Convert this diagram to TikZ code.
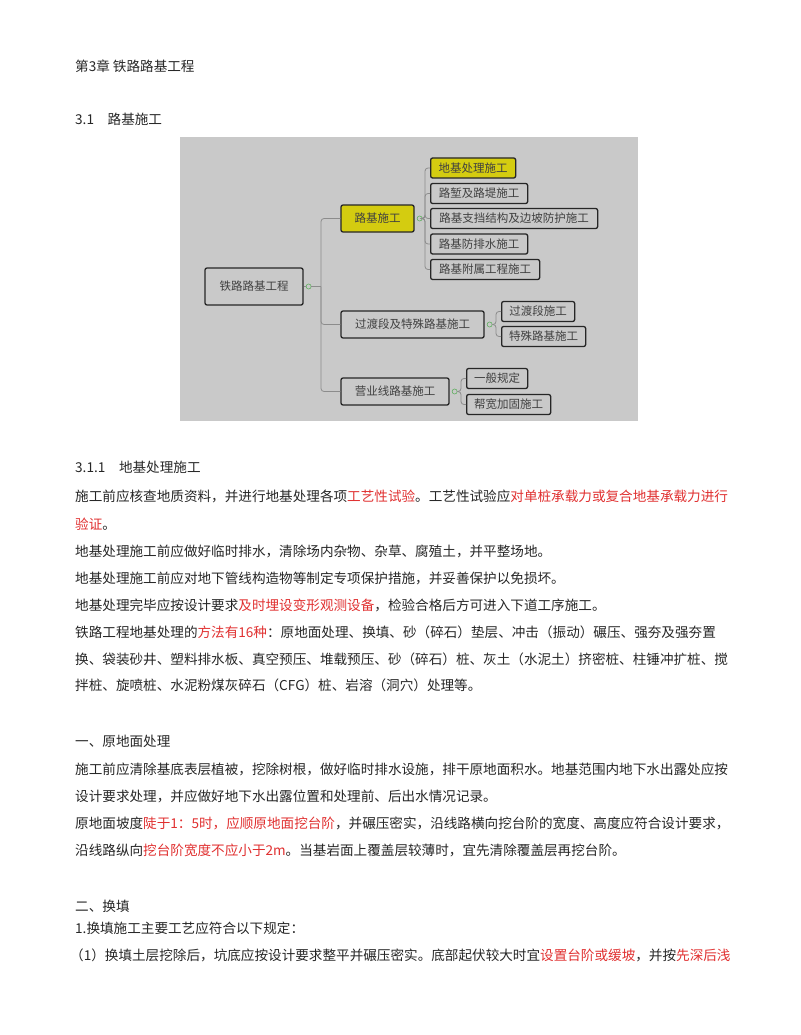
\documentclass[tikz,border=0pt]{standalone}
\usepackage{fontspec}
\setmainfont{Noto Sans CJK SC}
\definecolor{redt}{HTML}{E03030}
\definecolor{bg}{HTML}{C9C9C9}
\definecolor{yel}{HTML}{D4CC10}
\definecolor{ln}{HTML}{8C8C8C}
\newcommand{\rd}[1]{\textcolor{redt}{#1}}
\begin{document}
\begin{tikzpicture}[x=1pt,y=-1pt,
  txt/.style={anchor=west,inner sep=0pt,font=\fontsize{13.6}{14}\selectfont,text=black!85},
  box/.style={draw=black!85,line width=1.3pt,rounded corners=2pt,fill=bg,inner sep=0pt,font=\fontsize{11.5}{12}\selectfont,text=black!75},
  hl/.style={fill=yel},
  con/.style={draw=ln,line width=0.8pt,rounded corners=3pt},
  knob/.style={circle,draw=ln!70!green,line width=0.6pt,inner sep=0pt,minimum size=5pt,fill=bg}]
\useasboundingbox (0,0) rectangle (800,1035);
\node[txt] (h1) at (75,66) {第3章 铁路路基工程};
\node[txt] (h2) at (75,119) {3.1\quad 路基施工};
\fill[bg] (180,137) rectangle (638,421);
% nodes
\node[box,minimum width=98pt,minimum height=37pt] (root) at (254,286.5) {铁路路基工程};
\node[box,hl,minimum width=73pt,minimum height=27pt] (a) at (377.5,218.5) {路基施工};
\node[box,minimum width=143pt,minimum height=27pt] (b) at (412.5,324.5) {过渡段及特殊路基施工};
\node[box,minimum width=108pt,minimum height=27pt] (c) at (395,391.5) {营业线路基施工};
\node[box,hl,anchor=west,minimum width=85pt,minimum height=20pt] (a1) at (430,168) {地基处理施工};
\node[box,anchor=west,minimum width=97pt,minimum height=20pt] (a2) at (430,193.5) {路堑及路堤施工};
\node[box,anchor=west,minimum width=167pt,minimum height=20pt] (a3) at (430,218.5) {路基支挡结构及边坡防护施工};
\node[box,anchor=west,minimum width=97pt,minimum height=20pt] (a4) at (430,244) {路基防排水施工};
\node[box,anchor=west,minimum width=109pt,minimum height=20pt] (a5) at (430,269.5) {路基附属工程施工};
\node[box,anchor=west,minimum width=73pt,minimum height=20pt] (b1) at (501,311.5) {过渡段施工};
\node[box,anchor=west,minimum width=84pt,minimum height=20pt] (b2) at (501,336.5) {特殊路基施工};
\node[box,anchor=west,minimum width=61pt,minimum height=20pt] (c1) at (466,378.5) {一般规定};
\node[box,anchor=west,minimum width=84pt,minimum height=20pt] (c2) at (466,404.5) {帮宽加固施工};
% connectors
\node[knob] (kr) at ([xshift=5pt]root.east) {};
\node[knob] (ka) at ([xshift=5pt]a.east) {};
\node[knob] (kb) at ([xshift=5pt]b.east) {};
\node[knob] (kc) at ([xshift=5pt]c.east) {};
\draw[con] (root.east) -- (kr);
\draw[con] (kr.east) -- (321,286.5);
\foreach \n in {a,b,c} \draw[con] (321,286.5) |- (\n.west);
\foreach \k/\n in {a/a1,a/a2,a/a3,a/a4,a/a5} \draw[con] (k\k.east) -- (425,218.5) |- (\n.west);
\foreach \n in {b1,b2} \draw[con] (kb.east) -- (496,324.5) |- (\n.west);
\foreach \n in {c1,c2} \draw[con] (kc.east) -- (461,391.5) |- (\n.west);
% body text
\node[txt] (s1) at (75,467) {3.1.1\quad 地基处理施工};
\node[txt] (l1) at (75,496) {施工前应核查地质资料，并进行地基处理各项\rd{工艺性试验}。工艺性试验应\rd{对单桩承载力或复合地基承载力进行}};
\node[txt] (l2) at (75,524) {\rd{验证}。};
\node[txt] (l3) at (75,551) {地基处理施工前应做好临时排水，清除场内杂物、杂草、腐殖土，并平整场地。};
\node[txt] (l4) at (75,578) {地基处理施工前应对地下管线构造物等制定专项保护措施，并妥善保护以免损坏。};
\node[txt] (l5) at (75,605) {地基处理完毕应按设计要求\rd{及时埋设变形观测设备}，检验合格后方可进入下道工序施工。};
\node[txt] (l6) at (75,632) {铁路工程地基处理的\rd{方法有16种}：原地面处理、换填、砂（碎石）垫层、冲击（振动）碾压、强夯及强夯置};
\node[txt] (l7) at (75,659) {换、袋装砂井、塑料排水板、真空预压、堆载预压、砂（碎石）桩、灰土（水泥土）挤密桩、柱锤冲扩桩、搅};
\node[txt] (l8) at (75,685) {拌桩、旋喷桩、水泥粉煤灰碎石（CFG）桩、岩溶（洞穴）处理等。};
\node[txt] (s2) at (75,741) {一、原地面处理};
\node[txt] (m1) at (75,769) {施工前应清除基底表层植被，挖除树根，做好临时排水设施，排干原地面积水。地基范围内地下水出露处应按};
\node[txt] (m2) at (75,796) {设计要求处理，并应做好地下水出露位置和处理前、后出水情况记录。};
\node[txt] (m3) at (75,823) {原地面坡度\rd{陡于1：5时，应顺原地面挖台阶}，并碾压密实，沿线路横向挖台阶的宽度、高度应符合设计要求，};
\node[txt] (m4) at (75,850) {沿线路纵向\rd{挖台阶宽度不应小于2m}。当基岩面上覆盖层较薄时，宜先清除覆盖层再挖台阶。};
\node[txt] (s3) at (75,906) {二、换填};
\node[txt] (n1) at (75,928) {1.换填施工主要工艺应符合以下规定：};
\node[txt] (n2) at (70,955) {（1）换填土层挖除后，坑底应按设计要求整平并碾压密实。底部起伏较大时宜\rd{设置台阶或缓坡}，并按\rd{先深后浅}};
\end{tikzpicture}
\end{document}
